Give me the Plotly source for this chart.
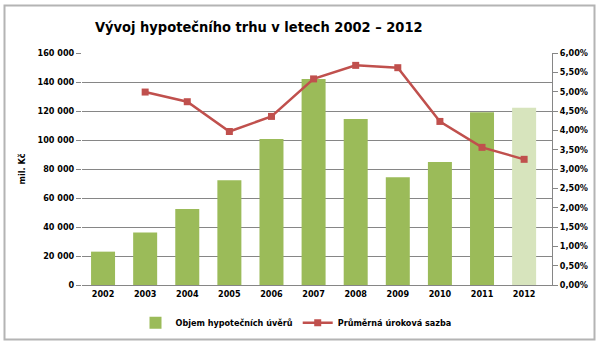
import plotly.graph_objects as go

# Data
years = ["2002", "2003", "2004", "2005", "2006", "2007", "2008", "2009", "2010", "2011", "2012"]
volume = [23000, 36200, 52400, 72300, 100700, 142000, 114400, 74300, 84800, 119200, 122200]
rate_years = ["2003", "2004", "2005", "2006", "2007", "2008", "2009", "2010", "2011", "2012"]
rate = [0.0499, 0.0474, 0.0397, 0.0436, 0.0533, 0.0568, 0.0562, 0.0423, 0.0356, 0.0325]

left_ticks = [0, 20000, 40000, 60000, 80000, 100000, 120000, 140000, 160000]
left_labels = ["0", "20 000", "40 000", "60 000", "80 000", "100 000", "120 000", "140 000", "160 000"]
right_ticks = [0.0, 0.005, 0.01, 0.015, 0.02, 0.025, 0.03, 0.035, 0.04, 0.045, 0.05, 0.055, 0.06]
right_labels = ["0,00%", "0,50%", "1,00%", "1,50%", "2,00%", "2,50%", "3,00%", "3,50%",
                "4,00%", "4,50%", "5,00%", "5,50%", "6,00%"]

GREEN = "#9BBB59"
GREEN_LIGHT = "#D7E4BD"
RED = "#C0504D"
FONT = "Liberation Sans Narrow, DejaVu Sans Condensed, Arial Narrow, sans-serif"

bar_colors = [GREEN] * (len(years) - 1) + [GREEN_LIGHT]

fig = go.Figure()
fig.add_trace(go.Bar(
    x=years, y=volume, name="Objem hypotečních úvěrů",
    marker=dict(color=bar_colors, line=dict(width=0)),
    width=0.57,
))
fig.add_trace(go.Scatter(
    x=rate_years, y=rate, name="Průměrná úroková sazba", yaxis="y2",
    mode="lines+markers",
    line=dict(color=RED, width=2.5),
    marker=dict(symbol="square", size=7, color=RED),
))

# plot area in pixels: left 82, right 552, top 53, bottom 287
L, R, T, B = 82, 552, 53, 287
W, H = R - L, B - T

def px_x(x):
    return (x - L) / W

def px_y(y):
    return (B - y) / H

fig.update_layout(
    width=600, height=349,
    margin=dict(l=L, r=600 - R, t=T, b=349 - B),
    paper_bgcolor="white", plot_bgcolor="white",
    font=dict(family=FONT, size=9, color="#000000"),
    bargap=0.43,
    showlegend=True,
    legend=dict(
        orientation="h", x=px_x(296), xanchor="center", y=px_y(325), yanchor="middle",
        font=dict(family=FONT, size=9, color="#000000", weight="bold"),
        itemwidth=30, bgcolor="rgba(0,0,0,0)",
    ),
    xaxis=dict(
        type="category", showgrid=False, showline=True, linecolor="#868686", linewidth=1,
        ticks="", tickfont=dict(family=FONT, size=9, color="#000000", weight="bold"),
        fixedrange=True,
    ),
    yaxis=dict(
        range=[0, 160000], tickvals=left_ticks, ticktext=left_labels,
        showgrid=True, gridcolor="#868686", gridwidth=1,
        showline=False, ticks="outside", ticklen=5, tickcolor="#868686",
        tickfont=dict(family=FONT, size=9, color="#000000", weight="bold"),
        zeroline=False,
        title=dict(text="mil. Kč", font=dict(family=FONT, size=9, color="#000000", weight="bold"),
                   standoff=10),
    ),
    yaxis2=dict(
        overlaying="y", side="right", range=[0, 0.06],
        tickvals=right_ticks, ticktext=right_labels,
        showgrid=False, showline=True, linecolor="#868686", linewidth=1,
        ticks="outside", ticklen=5, tickcolor="#868686",
        tickfont=dict(family=FONT, size=9, color="#000000", weight="bold"),
        zeroline=False,
    ),
    shapes=[dict(
        type="rect", xref="paper", yref="paper",
        x0=px_x(4.5), x1=px_x(594.5), y0=px_y(342), y1=px_y(5),
        line=dict(color="#B4B4B4", width=2), fillcolor="rgba(0,0,0,0)", layer="below",
    )],
    annotations=[dict(
        text="<b>Vývoj hypotečního trhu v letech 2002 – 2012</b>",
        xref="paper", yref="paper", x=px_x(259), y=px_y(27),
        xanchor="center", yanchor="middle", showarrow=False,
        font=dict(family=FONT, size=14.5, color="#000000"),
    )],
)

fig.write_html("out.html")
